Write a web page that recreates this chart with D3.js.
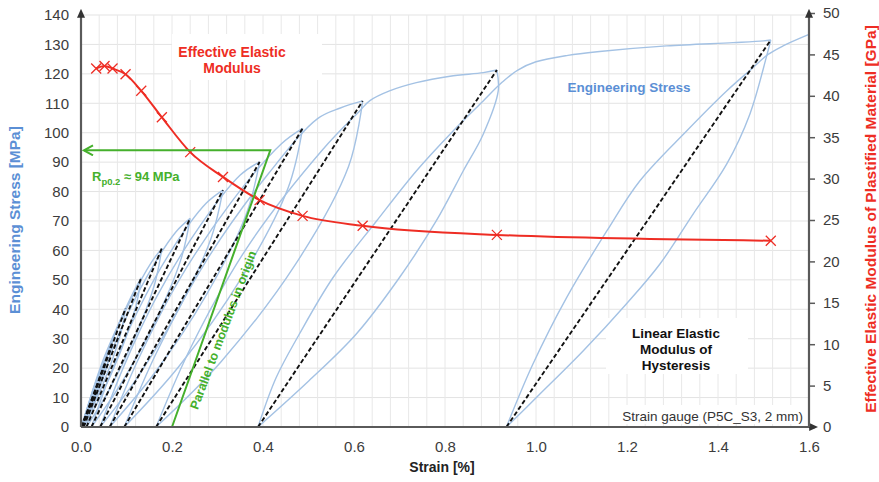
<!DOCTYPE html>
<html>
<head>
<meta charset="utf-8">
<script src="https://cdn.jsdelivr.net/npm/d3@7"></script>
<style>
body { margin: 0; background: #fff; }
svg text { font-family: "Liberation Sans", Arial, sans-serif; }
</style>
</head>
<body>
<div id="chart"></div>
<script>
// tick labels
const strainTicks = [0, 0.2, 0.4, 0.6, 0.8, 1.0, 1.2, 1.4, 1.6];
const stressTicks = [0, 10, 20, 30, 40, 50, 60, 70, 80, 90, 100, 110, 120, 130, 140];
const modulusTicks = [0, 5, 10, 15, 20, 25, 30, 35, 40, 45, 50];

// effective elastic modulus, one value per hysteresis peak
const peakStrain = [0.0334, 0.0517, 0.0693, 0.0979, 0.1324, 0.1777, 0.240, 0.312, 0.3926, 0.487, 0.619, 0.914, 1.516];
const modulusGPa = [43.3, 43.6, 43.3, 42.6, 40.6, 37.4, 33.2, 30.2, 27.4, 25.5, 24.3, 23.2, 22.5];

// linear modulus of hysteresis: peak stress and strain where the line meets zero stress
const peakStress = [12, 21, 29, 40.3, 50.7, 60.7, 70.9, 80.5, 90.1, 101.5, 110.8, 121.3, 131.5];
const zeroStrain = [0.0, 0.001, 0.002, 0.003, 0.006, 0.012, 0.023, 0.042, 0.063, 0.095, 0.165, 0.389, 0.935];

// engineering stress, [strain %, stress MPa] in test order (load, unload, reload ...)
const stressCurve = [
    [0, 0], [0.012, 4.5], [0.024, 8.8], [0.0334, 12],
    [0.0297, 9.6], [0.0207, 6], [0.0093, 2.4], [0, 0],
    [0.0063, 3], [0.0154, 6.6], [0.0272, 10.2], [0.042, 16.5], [0.0517, 21],
    [0.0454, 16.8], [0.0314, 10.5], [0.0144, 4.2], [0.001, 0],
    [0.0112, 5.25], [0.0254, 11.55], [0.0427, 17.85], [0.06, 25], [0.0693, 29],
    [0.0618, 23.2], [0.0437, 14.5], [0.0207, 5.8], [0.002, 0],
    [0.0153, 7.25], [0.034, 15.95], [0.0572, 24.65], [0.083, 35], [0.0979, 40.3],
    [0.0879, 32.2], [0.0625, 20.15], [0.0298, 8.06], [0.003, 0],
    [0.0211, 10.1], [0.0472, 22.2], [0.0805, 34.3], [0.115, 45.8], [0.1324, 50.7],
    [0.1199, 40.6], [0.0862, 25.35], [0.0423, 10.1], [0.006, 0],
    [0.0299, 12.7], [0.0645, 27.9], [0.109, 43.1], [0.155, 56], [0.1777, 60.7],
    [0.1619, 48.6], [0.1179, 30.35], [0.0601, 12.1], [0.012, 0],
    [0.0429, 15.2], [0.0881, 33.4], [0.1468, 51.6], [0.208, 66.2], [0.240, 70.9],
    [0.2191, 56.7], [0.1615, 35.45], [0.0859, 14.2], [0.023, 0],
    [0.064, 17.7], [0.1234, 39], [0.1999, 60.3], [0.275, 76], [0.312, 80.5],
    [0.2865, 64.4], [0.215, 40.25], [0.1207, 16.1], [0.042, 0],
    [0.0927, 20.1], [0.1665, 44.3], [0.2619, 68.4], [0.35, 85.6], [0.3926, 90.1],
    [0.3627, 72.1], [0.2758, 45], [0.1601, 18], [0.063, 0],
    [0.1244, 22.5], [0.2143, 49.6], [0.3312, 76.6], [0.44, 96.2], [0.487, 101.5],
    [0.4551, 81.2], [0.353, 50.75], [0.2137, 20.3], [0.095, 0],
    [0.1664, 25.4], [0.2726, 55.8], [0.413, 86.3], [0.52, 104.8], [0.57, 108.4], [0.619, 110.8],
    [0.5882, 88.6], [0.472, 55.4], [0.3078, 22.2], [0.165, 0],
    [0.2435, 27.7], [0.3647, 60.9], [0.5309, 94.2], [0.613, 107.5], [0.635, 110.9], [0.678, 114.2],
    [0.737, 117], [0.811, 119.2], [0.884, 120.4], [0.914, 121.3],
    [0.917, 114.2], [0.884, 99.5], [0.84, 87], [0.781, 70.1], [0.7, 50.8], [0.605, 31.6], [0.501, 15.7], [0.389, 0],
    [0.429, 16.8], [0.48, 31.6], [0.554, 50.8], [0.65, 70.1], [0.737, 87], [0.811, 99.5], [0.884, 110.8],
    [0.926, 117.2], [0.96, 121.3], [1.0, 124.1], [1.07, 126.3], [1.14, 127.6], [1.287, 129.5],
    [1.433, 130.6], [1.5, 131.2], [1.516, 131.5],
    [1.506, 125.5], [1.47, 106.3], [1.419, 89.3], [1.346, 72.5], [1.272, 55.3], [1.198, 41.7], [1.104, 25.9], [1.008, 11.1], [0.935, 0],
    [0.993, 21.3], [1.067, 43.9], [1.156, 66.7], [1.228, 83.6], [1.331, 100.6], [1.419, 114.2],
    [1.477, 122.1], [1.51, 126.6], [1.543, 129.5], [1.6, 133.4]
];

// Rp0.2 construction
const rpOffset = 0.2;
const rpStrain = 0.416;
const rpStress = 94;

const width = 879, height = 482;
const blue = "#a4c2e4", blueText = "#5b8fd5", red = "#ee2d24", green = "#45b02c", axisGrey = "#5a5a5a";

const svg = d3.select("#chart")
    .append("svg")
    .attr("width", width)
    .attr("height", height)
    .style("background", "#fff");

const x = d3.scaleLinear().domain([0, 1.6]).range([81, 809]);
const y = d3.scaleLinear().domain([0, 140]).range([427, 15]);
const y2 = d3.scaleLinear().domain([0, 50]).range([427, 13]);

// grid
const grid = svg.append("g");
grid.selectAll(".hgrid")
    .data(stressTicks.slice(1))
    .join("line")
    .attr("x1", x(0)).attr("x2", x(1.6))
    .attr("y1", d => y(d)).attr("y2", d => y(d))
    .attr("stroke", "#e3e3e3");
grid.selectAll(".vgrid")
    .data(d3.range(1, 40))
    .join("line")
    .attr("x1", d => x(d * 0.04)).attr("x2", d => x(d * 0.04))
    .attr("y1", y(0)).attr("y2", y(140))
    .attr("stroke", "#e8e8e8");

// white boxes behind the notes
const boxes = [[172, 34, 150, 46], [606, 318, 142, 56], [612, 405, 194, 19]];
svg.selectAll(".box")
    .data(boxes)
    .join("rect")
    .attr("x", d => d[0]).attr("y", d => d[1])
    .attr("width", d => d[2]).attr("height", d => d[3])
    .attr("fill", "#fff");

// split test history where loading turns into unloading and back
const segments = [];
let seg = [stressCurve[0]], dir = 0;
for (let i = 1; i < stressCurve.length; i++) {
    const d = Math.sign(stressCurve[i][1] - stressCurve[i - 1][1]);
    if (dir !== 0 && d !== dir) { segments.push(seg); seg = [stressCurve[i - 1]]; }
    dir = d;
    seg.push(stressCurve[i]);
}
segments.push(seg);

const stressLine = d3.line()
    .x(d => x(d[0]))
    .y(d => y(d[1]))
    .curve(d3.curveCatmullRom.alpha(0.5));

svg.append("g")
    .selectAll("path")
    .data(segments)
    .join("path")
    .attr("d", stressLine)
    .attr("fill", "none")
    .attr("stroke", blue)
    .attr("stroke-width", 1.4);

// dashed linear modulus of each hysteresis
svg.append("g")
    .selectAll("line")
    .data(peakStress)
    .join("line")
    .attr("x1", (d, i) => x(zeroStrain[i]))
    .attr("y1", y(0))
    .attr("x2", (d, i) => x(peakStrain[i]))
    .attr("y2", d => y(d))
    .attr("stroke", "#111")
    .attr("stroke-width", 1.9)
    .attr("stroke-dasharray", "4.5,2.5");

// effective elastic modulus
const modPoints = peakStrain.map((s, i) => [s, modulusGPa[i]]);
svg.append("path")
    .datum(modPoints)
    .attr("d", d3.line().x(d => x(d[0])).y(d => y2(d[1])).curve(d3.curveMonotoneX))
    .attr("fill", "none")
    .attr("stroke", red)
    .attr("stroke-width", 2);

svg.append("g")
    .selectAll("path")
    .data(modPoints)
    .join("path")
    .attr("transform", d => `translate(${x(d[0])},${y2(d[1])})`)
    .attr("d", "M-5,-5L5,5M-5,5L5,-5")
    .attr("stroke", red)
    .attr("stroke-width", 1.3);

// Rp0.2 construction
const defs = svg.append("defs");
defs.append("marker")
    .attr("id", "greenArrow")
    .attr("viewBox", "-11 -6 13 12")
    .attr("refX", 0).attr("refY", 0)
    .attr("markerWidth", 13).attr("markerHeight", 12)
    .attr("markerUnits", "userSpaceOnUse")
    .attr("orient", "auto")
    .append("path")
    .attr("d", "M-9,-5L0,0L-9,5")
    .attr("fill", "none")
    .attr("stroke", green)
    .attr("stroke-width", 2);

svg.append("path")
    .attr("d", `M${x(rpOffset)},${y(0)}L${x(rpStrain)},${y(rpStress)}L${x(0) + 3},${y(rpStress)}`)
    .attr("fill", "none")
    .attr("stroke", green)
    .attr("stroke-width", 2)
    .attr("marker-end", "url(#greenArrow)");

const rpLabel = svg.append("text")
    .attr("x", 92).attr("y", 181)
    .attr("fill", green)
    .style("font-size", "13px")
    .style("font-weight", "bold");
rpLabel.append("tspan").text("R");
rpLabel.append("tspan").attr("dy", 4).style("font-size", "9.5px").text("p0.2");
rpLabel.append("tspan").attr("dy", -4).text(" ≈ 94 MPa");

svg.append("text")
    .attr("transform", "translate(223,330) rotate(-69.5)")
    .attr("text-anchor", "middle")
    .attr("dy", "0.35em")
    .attr("fill", green)
    .style("font-size", "12.5px")
    .style("font-weight", "bold")
    .text("Parallel to modulus in origin");

// notes
svg.selectAll(".noteRed")
    .data(["Effective Elastic", "Modulus"])
    .join("text")
    .attr("x", 232).attr("y", (d, i) => 57 + i * 16)
    .attr("text-anchor", "middle")
    .attr("fill", red)
    .style("font-size", "14px")
    .style("font-weight", "bold")
    .text(d => d);

svg.append("text")
    .attr("x", 629).attr("y", 92)
    .attr("text-anchor", "middle")
    .attr("fill", blueText)
    .style("font-size", "13.5px")
    .style("font-weight", "bold")
    .text("Engineering Stress");

svg.selectAll(".noteBlack")
    .data(["Linear Elastic", "Modulus of", "Hysteresis"])
    .join("text")
    .attr("x", 676).attr("y", (d, i) => 338 + i * 16)
    .attr("text-anchor", "middle")
    .attr("fill", "#111")
    .style("font-size", "13.5px")
    .style("font-weight", "bold")
    .text(d => d);

svg.append("text")
    .attr("x", 803).attr("y", 421)
    .attr("text-anchor", "end")
    .attr("fill", "#333")
    .style("font-size", "13.5px")
    .text("Strain gauge (P5C_S3, 2 mm)");

// axes
const gx = svg.append("g")
    .attr("transform", `translate(0,${y(0)})`)
    .call(d3.axisBottom(x).tickValues(strainTicks).tickSize(0).tickPadding(14).tickFormat(d3.format(".1f")));
const gy = svg.append("g")
    .attr("transform", `translate(${x(0)},0)`)
    .call(d3.axisLeft(y).tickValues(stressTicks).tickSize(0).tickPadding(12));
const gy2 = svg.append("g")
    .attr("transform", `translate(${x(1.6)},0)`)
    .call(d3.axisRight(y2).tickValues(modulusTicks).tickSize(6).tickPadding(8));

[gx, gy, gy2].forEach(g => {
    g.select(".domain").remove();
    g.selectAll(".tick line").attr("stroke", axisGrey).attr("stroke-width", 1.5);
    g.selectAll("text")
        .attr("fill", "#3c3c3c")
        .style("font-size", "15px")
        .style("font-family", "Liberation Sans, Arial, sans-serif");
});

defs.append("marker")
    .attr("id", "axisArrow")
    .attr("viewBox", "0 -5 10 10")
    .attr("refX", 2).attr("refY", 0)
    .attr("markerWidth", 9).attr("markerHeight", 9)
    .attr("markerUnits", "userSpaceOnUse")
    .attr("orient", "auto")
    .append("path")
    .attr("d", "M0,-4.5L10,0L0,4.5Z")
    .attr("fill", "#333");

const axisLines = [
    [x(0), y(0), x(0), 16],
    [x(0), y(0), x(1.6) + 2, y(0)],
    [x(1.6), y(0), x(1.6), 16]
];
svg.selectAll(".axisLine")
    .data(axisLines)
    .join("line")
    .attr("x1", d => d[0]).attr("y1", d => d[1])
    .attr("x2", d => d[2]).attr("y2", d => d[3])
    .attr("stroke", axisGrey)
    .attr("stroke-width", 2.2)
    .attr("marker-end", "url(#axisArrow)");

// axis titles
svg.append("text")
    .attr("x", 442).attr("y", 472)
    .attr("text-anchor", "middle")
    .attr("fill", "#222")
    .style("font-size", "14px")
    .style("font-weight", "bold")
    .text("Strain [%]");

svg.append("text")
    .attr("transform", "translate(15,220) rotate(-90)")
    .attr("text-anchor", "middle")
    .attr("dy", "0.35em")
    .attr("fill", blueText)
    .style("font-size", "15.5px")
    .style("font-weight", "bold")
    .text("Engineering Stress [MPa]");

svg.append("text")
    .attr("transform", "translate(871,219) rotate(-90)")
    .attr("text-anchor", "middle")
    .attr("dy", "0.35em")
    .attr("fill", red)
    .style("font-size", "15.5px")
    .style("font-weight", "bold")
    .text("Effective Elastic Modulus of Plastified Material [GPa]");
</script>
</body>
</html>
